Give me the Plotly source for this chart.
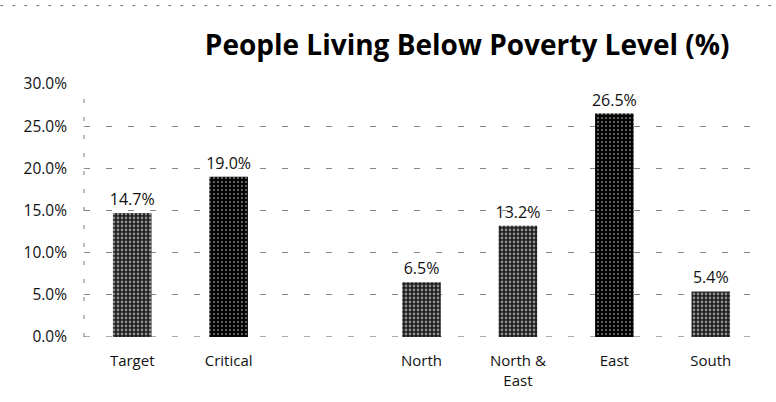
import plotly.graph_objects as go

categories = ["Target", "Critical", " ", "North", "North &<br>East", "East", "South"]
values = [0.147, 0.190, None, 0.065, 0.132, 0.265, 0.054]
dark = [False, True, False, False, False, True, False]

labels = [f"{v*100:.1f}%" if v is not None else "" for v in values]

fig = go.Figure()
fig.add_trace(go.Bar(
    x=categories,
    y=values,
    text=labels,
    textposition="outside",
    constraintext="none",
    textfont=dict(family="Open Sans", size=16, color="#111"),
    cliponaxis=False,
    marker=dict(
        color=["#050505" if d else "#1c1c1c" for d in dark],
        line=dict(width=0),
        pattern=dict(
            shape=".",
            fgcolor="white",
            size=4,
            solidity=[0.18 if d else 0.38 for d in dark],
            fillmode="overlay",
        ),
    ),
))

fig.update_layout(
    width=776, height=402,
    margin=dict(l=84, r=17, t=84, b=63),
    paper_bgcolor="white", plot_bgcolor="white",
    bargap=0.6,
    showlegend=False,
    title=dict(
        text="<b>People Living Below Poverty Level (%)</b>",
        x=0.602, xanchor="center", y=0.888, yanchor="middle",
        font=dict(family="Open Sans", size=28, color="black"),
    ),
    font=dict(family="Open Sans", size=15, color="#111"),
)
fig.update_yaxes(
    range=[0, 0.30], dtick=0.05, tickformat=".1%",
    showgrid=True, gridcolor="#888", griddash="6px,16px", gridwidth=1,
    showline=False,
    zeroline=False, ticks="", ticklen=0,
    ticklabelstandoff=16,
    tickfont=dict(size=15.5),
)
fig.update_xaxes(
    showgrid=False, showline=False, ticks="",
    tickfont=dict(size=15),
    ticklabelstandoff=13,
)
# dashed left axis line
fig.add_shape(type="line", xref="paper", yref="paper", x0=0, x1=0, y0=0, y1=0.96,
              line=dict(color="#777", width=1, dash="4px,14px"), layer="below")
# dashed baseline along 0%
fig.add_shape(type="line", xref="paper", yref="y", x0=0, x1=1, y0=0, y1=0,
              line=dict(color="#555", width=1, dash="6px,16px"), layer="below")
# dotted top border of the chart
fig.add_shape(type="line", xref="paper", yref="paper", x0=-0.124, x1=1.025, y0=1.31, y1=1.31,
              line=dict(color="#777", width=1, dash="3px,9px"))

fig.write_html("out.html")
